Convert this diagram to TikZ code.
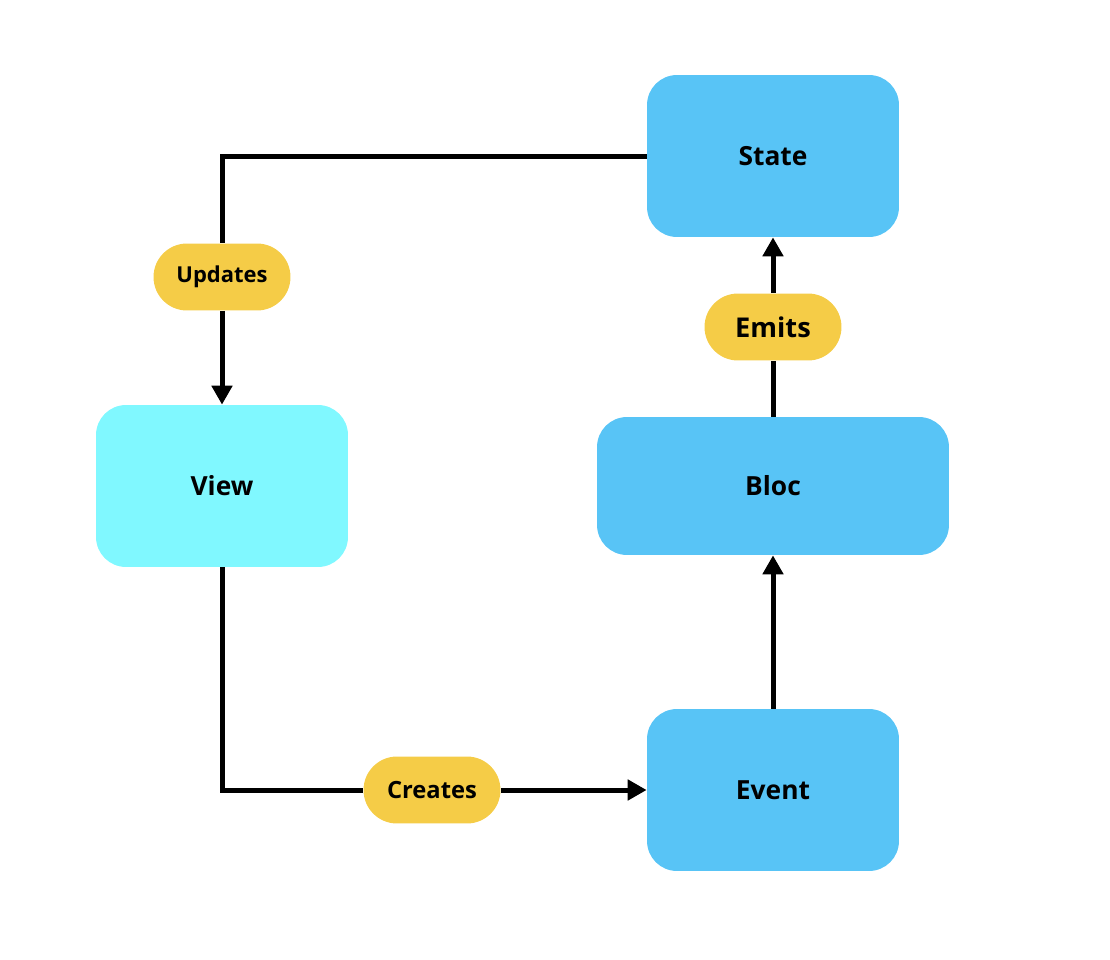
\documentclass[tikz,border=0pt]{standalone}
\usepackage{fontspec}
\setmainfont{Open Sans}
\usetikzlibrary{arrows.meta,shapes.misc,positioning}
\definecolor{blocblue}{HTML}{58C4F6}
\definecolor{viewcyan}{HTML}{80F8FF}
\definecolor{pillyellow}{HTML}{F5CC47}

\begin{document}
\begin{tikzpicture}[x=0.02cm,y=-0.02cm]
\tikzset{box/.style ={fill=blocblue,rounded corners=0.6cm,minimum width=5.04cm,minimum height=3.24cm,font=\fontsize{15}{18}\selectfont\bfseries},
  pill/.style ={fill=pillyellow,rounded corners=0.67cm,minimum width=2.74cm,minimum height=1.34cm,font=\fontsize{13.5}{16}\selectfont\bfseries},
  flow/.style ={line width=0.1cm,-{Triangle[width=0.4cm,length=0.38cm]}}}
% \useasboundingbox (0,0) rectangle (1110,960);
\useasboundingbox (0,0) rectangle (1110,960);
    \node[box] (state) at (773,156) {State};
    \node[box,fill=viewcyan] (view) at (222,486) {View};
    \node[box,minimum width=7.04cm,minimum height=2.76cm] (bloc) at (773,486) {Bloc};
    \node[box] (event) at (773,790) {Event};
    \node[pill,font=\fontsize{12.5}{15}\selectfont\bfseries] (updates) at (222,277) {Updates};
    \node[pill,font=\fontsize{15.5}{18}\selectfont\bfseries] (emits) at (773,327) {Emits};
    \node[pill] (creates) at (432,790) {Creates};
    \draw[flow,-] (state.west) -| (updates.north);
    \draw[flow] (updates.south) -- (view.north);
    \draw[flow,-] (bloc.north) -- (emits.south);
    \draw[flow] (emits.north) -- (state.south);
    \draw[flow] (event.north) -- (bloc.south);
    \draw[flow,-] (view.south) |- (creates.west);
    \draw[flow] (creates.east) -- (event.west);
\end{tikzpicture}
\end{document}
